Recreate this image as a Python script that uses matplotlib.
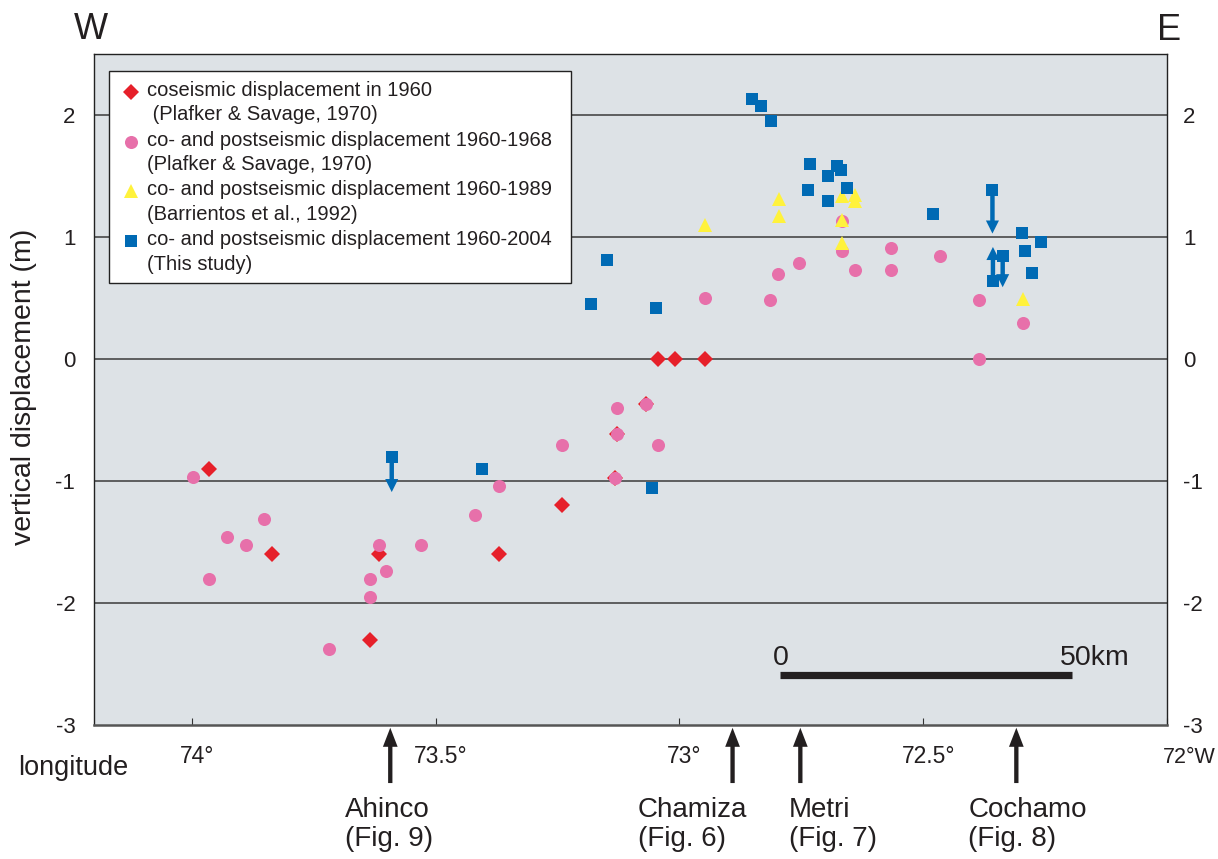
import numpy as np
import matplotlib
matplotlib.use("Agg")
import matplotlib.pyplot as plt
from matplotlib.legend_handler import HandlerLine2D
from matplotlib.transforms import ScaledTranslation

plt.rcParams['font.family'] = ['Liberation Sans', 'DejaVu Sans']
TXT = '#231f20'

# ---------------- data ----------------
# coseismic displacement 1960 (Plafker & Savage, 1970)
co_lon = [73.964, 73.835, 73.617, 73.634, 73.369, 73.240, 73.132, 73.127,
          73.068, 73.043, 73.010, 72.947]
co_disp = [-0.90, -1.60, -1.60, -2.30, -1.60, -1.20, -0.975, -0.61,
           -0.365, 0.0, 0.0, 0.0]

# co- and postseismic 1960-1968 (Plafker & Savage, 1970)
ps68_lon = [73.998, 73.852, 73.927, 73.889, 73.964, 73.617, 73.529, 73.601,
            73.634, 73.634, 73.718, 73.369, 73.420, 73.240, 73.127, 73.068,
            73.127, 73.043, 73.132,
            72.667, 72.667, 72.754, 72.797, 72.948, 72.814, 72.640, 72.566,
            72.566, 72.465, 72.386, 72.295, 72.386]
ps68_disp = [-0.97, -1.31, -1.46, -1.52, -1.80, -1.52, -1.52, -1.74,
             -1.80, -1.95, -2.38, -1.04, -1.28, -0.70, -0.40, -0.365,
             -0.61, -0.70, -0.975,
             1.13, 0.885, 0.79, 0.70, 0.50, 0.486, 0.73, 0.91,
             0.73, 0.85, 0.486, 0.30, 0.0]

# co- and postseismic 1960-1989 (Barrientos et al., 1992)
ps89_lon = [72.947, 72.796, 72.796, 72.667, 72.639, 72.639, 72.667, 72.667, 72.295]
ps89_disp = [1.10, 1.31, 1.17, 1.34, 1.35, 1.295, 1.145, 0.953, 0.497]

# co- and postseismic 1960-2004 (this study)
ps04_lon = [72.852, 72.833, 72.813, 72.732, 72.736, 72.696, 72.676, 72.668,
            72.696, 72.657, 72.479, 72.358, 72.357, 72.337, 72.298, 72.259,
            72.292, 72.277, 73.149, 73.181, 73.047, 73.590, 73.405, 73.057]
ps04_disp = [2.13, 2.08, 1.95, 1.60, 1.39, 1.50, 1.58, 1.55,
             1.30, 1.40, 1.19, 1.39, 0.64, 0.85, 1.035, 0.96,
             0.89, 0.71, 0.81, 0.45, 0.42, -0.80, -0.90, -1.06]

# arrows attached to some of this study's points
arr_lon = [73.590, 72.358, 72.357, 72.337]
arr_from = [-0.80, 1.39, 0.64, 0.85]
arr_to = [-1.09, 1.03, 0.92, 0.59]

# sites marked below the axis
site_names = ['Ahinco', 'Chamiza', 'Metri', 'Cochamo']
site_figs = ['(Fig. 9)', '(Fig. 6)', '(Fig. 7)', '(Fig. 8)']
site_lon = [73.593, 72.891, 72.752, 72.309]

xticks = [74, 73.5, 73, 72.5, 72]
xtick_labels = ['74°', '73.5°', '73°', '72.5°', '72°W']
yticks = [-3, -2, -1, 0, 1, 2]
ytick_labels = ['-3', '-2', '-1', '0', '1', '2']

legend_labels = [
    "coseismic displacement in 1960\n (Plafker & Savage, 1970)",
    "co- and postseismic displacement 1960-1968\n(Plafker & Savage, 1970)",
    "co- and postseismic displacement 1960-1989\n(Barrientos et al., 1992)",
    "co- and postseismic displacement 1960-2004\n(This study)",
]

# scale bar (50 km)
bar_start_lon = 72.794
bar_len_deg = 0.60
bar_y = -2.59

# ---------------- styles ----------------
RED = '#e6202a'
PINK = '#e770aa'
YELLOW = '#fff23c'
BLUE = '#006ab4'
BG = '#dde2e6'

W, H = 1218, 859
fig = plt.figure(figsize=(W / 100, H / 100), dpi=100)
ax = fig.add_axes([94.3 / W, (H - 725) / H, (1167 - 94.3) / W, (725 - 54.3) / H])
ax.set_facecolor(BG)
ax.set_xlim(74.2, 72.0)
ax.set_ylim(-3, 2.5)

for yv in yticks[1:]:
    ax.axhline(yv, color='#3a3a3a', lw=1.1, zorder=1)

h1, = ax.plot(co_lon, co_disp, ls='none', marker='D', ms=7.7, mew=0, color=RED, zorder=3)
h2, = ax.plot(ps68_lon, ps68_disp, ls='none', marker='o', ms=9.4, mew=0, color=PINK, zorder=4)
h3, = ax.plot(ps89_lon, ps89_disp, ls='none', marker='^', ms=9.8, mew=0, color=YELLOW, zorder=5)
for lo, a, b in zip(arr_lon, arr_from, arr_to):
    ax.annotate('', xy=(lo, b), xytext=(lo, a), xycoords='data', textcoords='data',
                arrowprops=dict(arrowstyle='simple,head_length=0.94,head_width=0.94,tail_width=0.32',
                                mutation_scale=10, fc=BLUE, ec='none', lw=0,
                                shrinkA=0, shrinkB=0), zorder=5.5)
h4, = ax.plot(ps04_lon, ps04_disp, ls='none', marker='s', ms=8.9, mew=0, color=BLUE, zorder=6)

# axes styling
for s in ['top', 'left', 'right']:
    ax.spines[s].set_linewidth(1.0)
    ax.spines[s].set_color('#222222')
ax.spines['bottom'].set_linewidth(1.8)
ax.spines['bottom'].set_color('#555555')

ax.set_xticks(xticks, labels=xtick_labels)
ax.tick_params(axis='x', direction='in', length=5, width=0.8, color='#333333',
               pad=14.5, labelsize=16.5, labelcolor=TXT)
ax.set_yticks(yticks, labels=ytick_labels)
ax.tick_params(axis='y', length=0, pad=13.7, labelsize=16, labelcolor=TXT)

labs = ax.get_xticklabels()
for i, lab in enumerate(labs):
    if i == len(labs) - 1:
        lab.set_ha('left')
        lab.set_fontsize(15.5)
        lab.set_transform(lab.get_transform() + ScaledTranslation(-4 / 100, -2 / 100, fig.dpi_scale_trans))
    else:
        lab.set_transform(lab.get_transform() + ScaledTranslation(5 / 100, 0, fig.dpi_scale_trans))

ax2 = ax.twinx()
ax2.set_ylim(-3, 2.5)
ax2.set_yticks(yticks, labels=ytick_labels)
ax2.tick_params(axis='y', length=0, pad=11.5, labelsize=16, labelcolor=TXT)
for s in ax2.spines.values():
    s.set_visible(False)


class FirstLineHandler(HandlerLine2D):
    def create_artists(self, legend, orig_handle, xdescent, ydescent, width, height,
                       fontsize, trans):
        arts = super().create_artists(legend, orig_handle, xdescent, ydescent, width,
                                      height, fontsize, trans)
        for a in arts:
            a.set_ydata(np.asarray(a.get_ydata(), dtype=float) + 0.55 * fontsize)
        return arts


x0 = (109.5 - 94.3) / (1167 - 94.3)
x1 = (571 - 94.3) / (1167 - 94.3)
ytop = (725 - 71) / (725 - 54.3)
handles = [h1, h2, h3, h4]
leg = ax.legend(handles, legend_labels, loc='upper left',
                bbox_to_anchor=(x0, ytop - 0.4, x1 - x0, 0.4), mode='expand',
                borderaxespad=0, fontsize=14.5, frameon=True, fancybox=False,
                framealpha=1, edgecolor='#222222', facecolor='white',
                handlelength=1.15, handletextpad=0.25, borderpad=0.48,
                labelspacing=0.33, numpoints=1,
                handler_map={h: FirstLineHandler() for h in handles})
leg.get_frame().set_linewidth(1.0)
for t in leg.get_texts():
    t.set_color(TXT)
    t.set_linespacing(1.35)
leg.set_zorder(10)

# scale bar
ax.plot([bar_start_lon, bar_start_lon - bar_len_deg], [bar_y, bar_y], color=TXT,
        lw=5.2, solid_capstyle='butt', zorder=3)
ax.annotate('0', xy=(bar_start_lon, bar_y), xytext=(0.8, 7.2), textcoords='offset points',
            ha='center', va='baseline', fontsize=20.5, color=TXT)
ax.annotate('50km', xy=(bar_start_lon - bar_len_deg, bar_y), xytext=(-8.9, 7.2),
            textcoords='offset points', ha='left', va='baseline', fontsize=20.5, color=TXT)

# site arrows and labels
site_dx = [-32.4, -68.4, -8.0, -34.6]
for lo, nm, fg, dx in zip(site_lon, site_names, site_figs, site_dx):
    ax.annotate('', xy=(lo, -3), xycoords='data', xytext=(0, -41.8), textcoords='offset points',
                arrowprops=dict(arrowstyle='simple,head_length=1.37,head_width=1.06,tail_width=0.31',
                                mutation_scale=10, fc=TXT, ec='none', lw=0,
                                shrinkA=0, shrinkB=2), annotation_clip=False)
    ax.annotate(nm, xy=(lo, -3), xytext=(dx, -66.0), textcoords='offset points',
                ha='left', va='baseline', fontsize=20, color=TXT, annotation_clip=False)
    ax.annotate(fg, xy=(lo, -3), xytext=(dx, -86.9), textcoords='offset points',
                ha='left', va='baseline', fontsize=20, color=TXT, annotation_clip=False)

# figure texts
fig.text(90.5 / W, 1 - 29.7 / H, 'W', ha='center', va='center', fontsize=26, color=TXT)
fig.text(1169 / W, 1 - 30 / H, 'E', ha='center', va='center', fontsize=26, color=TXT)
fig.text(24 / W, 1 - 387 / H, 'vertical displacement (m)', rotation=90, ha='center',
         va='center', fontsize=20.5, color=TXT)
fig.text(18 / W, (H - 775) / H, 'longitude', ha='left', va='baseline', fontsize=19.5, color=TXT)

fig.savefig('out.png', dpi=100)
